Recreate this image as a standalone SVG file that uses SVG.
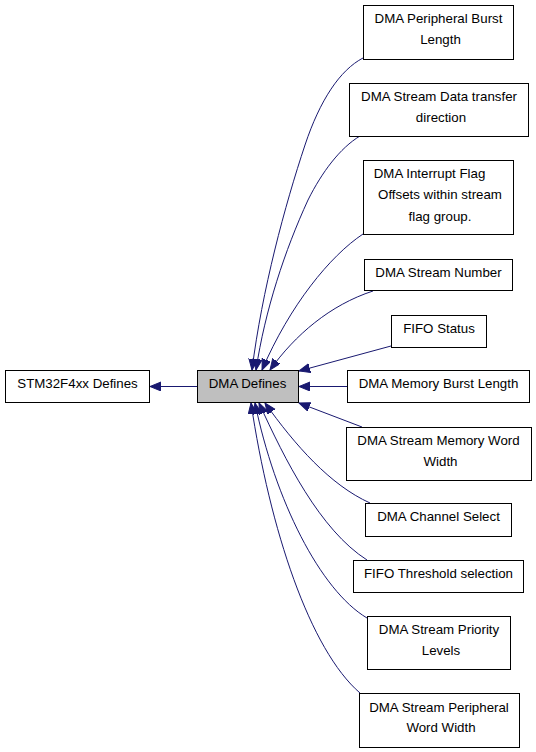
<svg xmlns="http://www.w3.org/2000/svg" width="536" height="752" viewBox="0 0 536 752">
<defs>
<style>
.n rect{fill:#ffffff;stroke:#000000;stroke-width:1}
.n text{font-family:"Liberation Sans",Arial,Helvetica,sans-serif;font-size:13.3px;fill:#000000;text-anchor:middle}
.e path{fill:none;stroke:#191970;stroke-width:1;marker-end:url(#ah)}
</style>
<marker id="ah" markerUnits="userSpaceOnUse" markerWidth="12" markerHeight="10" refX="11" refY="4.5" orient="auto" viewBox="0 0 12 10">
<path d="M0,0 L11,4.5 L0,9 z" fill="#191970" stroke="#191970" stroke-width="1"/>
</marker>
</defs>
<rect x="0" y="0" width="536" height="752" fill="#ffffff"/>
<g id="connectors" class="e">
<path d="M197,386.5 L150,386.5"/>
<path d="M363,58 C340,70 320,100 305,145 C285,205 262,290 252,370"/>
<path d="M360,136 C340,148 322,172 308,200 C285,250 265,310 256,370"/>
<path d="M363,234 C330,256 290,305 262,370"/>
<path d="M373,291 C330,305 295,335 270,370"/>
<path d="M391,346 L299,371"/>
<path d="M347,386.5 L299,386.5"/>
<path d="M362,427 L299,403"/>
<path d="M370,503 C330,485 295,445 265,403"/>
<path d="M367,560 C320,530 285,460 259,403"/>
<path d="M367,618 C320,590 275,500 255,403"/>
<path d="M360,693 C310,650 270,530 251,403"/>
</g>
<g id="stm32f4xx-defines" class="n">
<rect x="5.5" y="370.5" width="144" height="32"/>
<text x="77.5" y="388">STM32F4xx Defines</text>
</g>
<g id="dma-defines" class="n">
<rect x="197.5" y="370.5" width="101" height="32" style="fill:#bfbfbf"/>
<text x="247.5" y="388">DMA Defines</text>
</g>
<g id="dma-peripheral-burst-length" class="n">
<rect x="363.5" y="5.5" width="150" height="54"/>
<text x="438.5" y="23">DMA Peripheral Burst</text>
<text x="440.5" y="44">Length</text>
</g>
<g id="dma-stream-data-transfer-direction" class="n">
<rect x="349.5" y="83.5" width="179" height="53"/>
<text x="439" y="101">DMA Stream Data transfer</text>
<text x="441" y="122">direction</text>
</g>
<g id="dma-interrupt-flag-offsets" class="n">
<rect x="363.5" y="160.5" width="150" height="74"/>
<text x="429.5" y="178">DMA Interrupt Flag</text>
<text x="440" y="199.3">Offsets within stream</text>
<text x="440" y="220.6">flag group.</text>
</g>
<g id="dma-stream-number" class="n">
<rect x="364.5" y="259.5" width="148" height="31"/>
<text x="438.5" y="276.5">DMA Stream Number</text>
</g>
<g id="fifo-status" class="n">
<rect x="391.5" y="315.5" width="95" height="32"/>
<text x="439" y="332.5">FIFO Status</text>
</g>
<g id="dma-memory-burst-length" class="n">
<rect x="347.5" y="370.5" width="182" height="32"/>
<text x="438.5" y="388">DMA Memory Burst Length</text>
</g>
<g id="dma-stream-memory-word-width" class="n">
<rect x="346.5" y="427.5" width="185" height="53"/>
<text x="438.5" y="445">DMA Stream Memory Word</text>
<text x="440.5" y="466">Width</text>
</g>
<g id="dma-channel-select" class="n">
<rect x="365.5" y="503.5" width="146" height="33"/>
<text x="438.5" y="521">DMA Channel Select</text>
</g>
<g id="fifo-threshold-selection" class="n">
<rect x="353.5" y="560.5" width="170" height="32"/>
<text x="438.5" y="577.5">FIFO Threshold selection</text>
</g>
<g id="dma-stream-priority-levels" class="n">
<rect x="367.5" y="616.5" width="143" height="53"/>
<text x="439" y="634">DMA Stream Priority</text>
<text x="441" y="655">Levels</text>
</g>
<g id="dma-stream-peripheral-word-width" class="n">
<rect x="359.5" y="693.5" width="160" height="54"/>
<text x="439" y="711.5">DMA Stream Peripheral</text>
<text x="441" y="732">Word Width</text>
</g>
</svg>
